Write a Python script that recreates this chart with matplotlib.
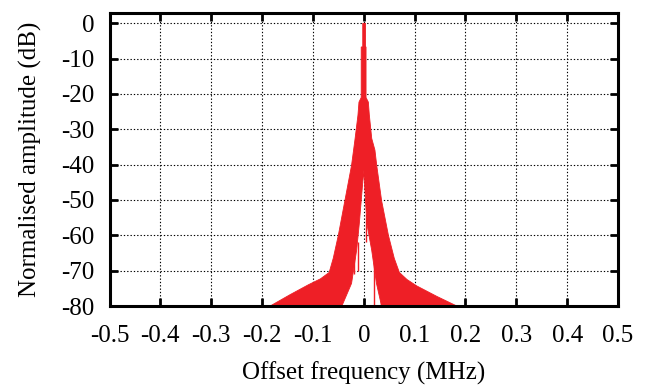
import matplotlib
matplotlib.use('Agg')
import matplotlib.pyplot as plt
import numpy as np

plt.rcParams['font.family'] = ['Liberation Serif', 'DejaVu Serif']

# upper edge of the spectrum (MHz, dB), left to right
f_upper = [-0.184, -0.145, -0.109, -0.085, -0.068, -0.060, -0.050, -0.037, -0.024, -0.017,
           -0.0114, -0.0094, -0.005, -0.005, -0.002, -0.002, 0.0035, 0.0035, 0.0045,
           0.0045, 0.009, 0.011, 0.0157, 0.022, 0.0255, 0.035, 0.0485, 0.060, 0.070,
           0.085, 0.104, 0.144, 0.183]
a_upper = [-80, -76.8, -74.0, -72.3, -70.5, -66.5, -60, -50.1, -40.2, -32.6,
           -26, -22.3, -21, -6.7, -6.7, 0, 0, -6.7, -6.7,
           -21, -22.3, -26, -32.6, -35.9, -40.2, -50.1, -60, -66.5, -70.5,
           -72.5, -74.3, -77.3, -80]

# lower edge (notch under the carrier), right to left
f_lower = [0.183, 0.035, 0.025, 0.0156, 0.006, 0.0, -0.0087, -0.014, -0.024, -0.043, -0.184]
a_lower = [-80, -80, -73.6, -64.2, -56.6, -41.6, -56.6, -64.2, -73.6, -80, -80]

# thin spurs hanging into the notch
spur_f = [0.004, -0.020, 0.020, -0.011, 0.033]
spur_top = [-54, -66, -67, -62, -76]
spur_bot = [-62, -71, -80, -70, -80]

xticks = [-0.5, -0.4, -0.3, -0.2, -0.1, 0, 0.1, 0.2, 0.3, 0.4, 0.5]
xtick_labels = ['-0.5', '-0.4', '-0.3', '-0.2', '-0.1', '0', '0.1', '0.2', '0.3', '0.4', '0.5']
yticks = [0, -10, -20, -30, -40, -50, -60, -70, -80]

red = '#ee1f26'

fig = plt.figure(figsize=(6.48, 3.87), dpi=100)
ax = fig.add_axes([0.169, 0.2093, 0.7847, 0.7579])

ax.fill(np.concatenate([f_upper, f_lower]), np.concatenate([a_upper, a_lower]),
        color=red, lw=0.6, zorder=2)
ax.vlines(spur_f, spur_bot, spur_top, color=red, lw=1.0, zorder=2)

ax.set_xlim(-0.5, 0.5)
ax.set_ylim(-80, 3)
ax.set_xticks(xticks)
ax.set_xticklabels(xtick_labels)
ax.set_yticks(yticks)
ax.set_yticklabels([str(v) for v in yticks])

ax.grid(True, color='black', linestyle=(0, (1.2, 1.8)), linewidth=0.8, zorder=1)
ax.set_axisbelow(True)

for s in ax.spines.values():
    s.set_linewidth(2.2)
    s.set_zorder(5)
ax.tick_params(direction='in', length=6, width=2, top=True, right=True, labelsize=18)
ax.tick_params(axis='x', pad=14)
ax.tick_params(axis='y', pad=11)

ax.set_xlabel('Offset frequency (MHz)', fontsize=18, labelpad=10)
ax.set_ylabel('Normalised amplitude (dB)', fontsize=18, labelpad=14)

fig.savefig('out.png', dpi=100)
